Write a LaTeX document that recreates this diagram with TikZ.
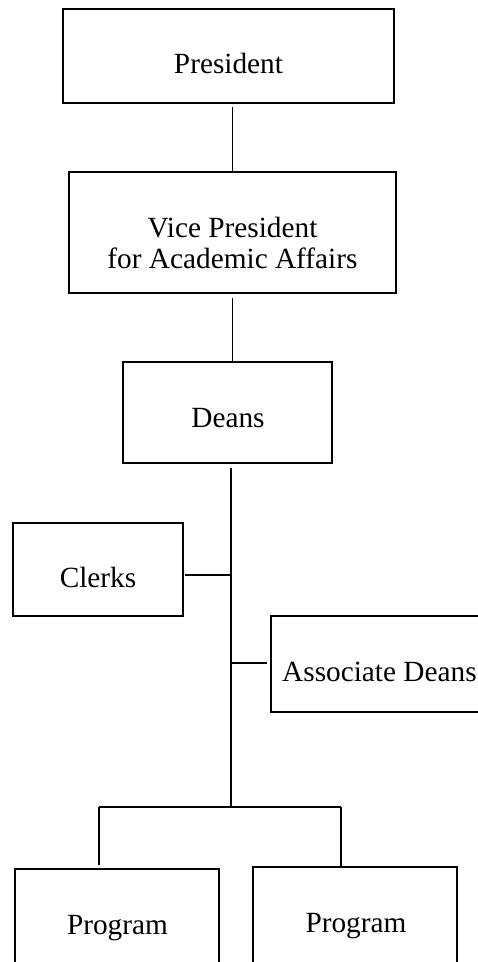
\documentclass[tikz,border=0pt]{standalone}
\usepackage{fontspec}
\setmainfont{Liberation Serif}
\usetikzlibrary{calc}
\begin{document}
\begin{tikzpicture}[x=1pt,y=-1pt,
  box/.style={draw, line width=2.2pt, inner sep=0pt, outer sep=0pt},
  lbl/.style={font=\fontsize{29.3}{31}\selectfont, inner sep=0pt, anchor=base},
  link/.style={line width=1.7pt}]
\useasboundingbox (0,0) rectangle (478,962);
\clip (0,0) rectangle (478,962);

% boxes
\node[box, minimum width=331pt, minimum height=94pt] (pres) at (228.5,56) {};
\node[box, minimum width=327pt, minimum height=121pt] (vp) at (232.5,232.5) {};
\node[box, minimum width=209pt, minimum height=101pt] (deans) at (227.5,412.5) {};
\node[box, minimum width=170pt, minimum height=93pt] (clerks) at (98,569.5) {};
\node[box, minimum width=219pt, minimum height=96pt] (assoc) at (380.5,664) {};
\node[box, minimum width=204pt, minimum height=111pt] (prog1) at (117,924.5) {};
\node[box, minimum width=204pt, minimum height=113pt] (prog2) at (355,923.5) {};

% labels
\node[lbl] (presT) at (228.5,73) {President};
\node[lbl, anchor=center, align=center] (vpT) at (232.5,242.5) {Vice President\\for Academic Affairs};
\node[lbl] (deansT) at (228,427) {Deans};
\node[lbl] (clerksT) at (98,587) {Clerks};
\node[lbl, anchor=base west] (assocT) at (282,681) {Associate Deans};
\node[lbl] (prog1T) at (117.5,934) {Program};
\node[lbl] (prog2T) at (356,932) {Program};

% junction points of the connectors
\coordinate (fork) at (231,807);
\coordinate (cj) at (231,575);
\coordinate (aj) at (231,663);
\coordinate (bl) at (99,807);
\coordinate (br) at (341,807);

% connectors
\draw[link] ($(pres.south -| vp.north)+(0,4)$) -- (vp.north);
\draw[link] ($(vp.south)+(0,5)$) -- (vp.south |- deans.north);
\draw[link] ($(deans.south -| fork)+(0,5)$) -- (fork);
\draw[link] ($(clerks.east |- cj)+(2,0)$) -- (cj);
\draw[link] (aj) -- ($(assoc.west |- aj)+(-4,0)$);
\draw[link] (bl) -- (br);
\draw[link] (bl) -- ($(prog1.north -| bl)+(0,-4)$);
\draw[link] (br) -- ($(prog2.north -| br)+(0,-1)$);
\end{tikzpicture}
\end{document}
